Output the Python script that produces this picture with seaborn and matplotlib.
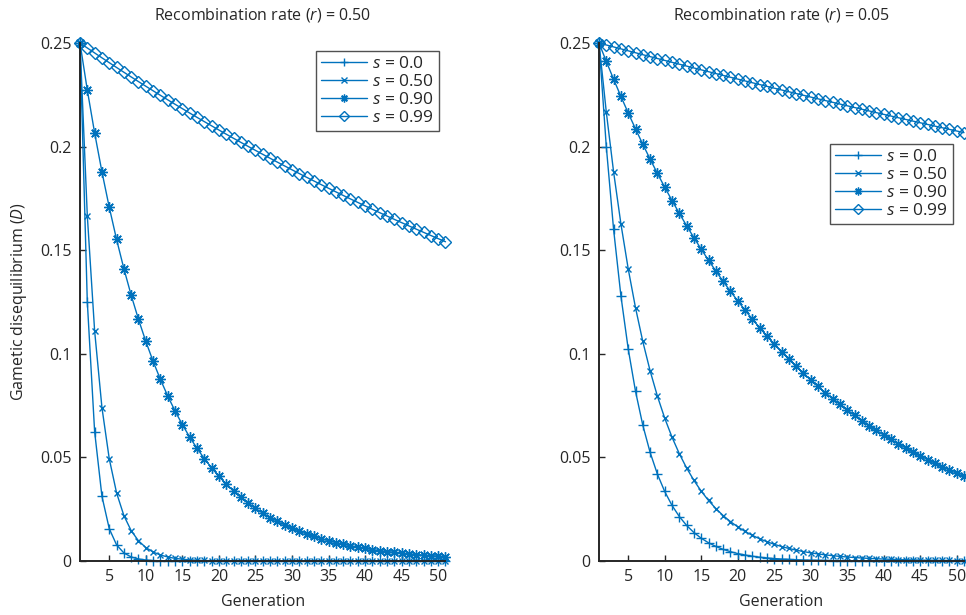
import matplotlib
matplotlib.use("Agg")
import matplotlib.pyplot as plt
import seaborn as sns

# Generations 1..51
generations = list(range(1, 52))

# Recombination rate r = 0.50
d_r050_s000 = [0.25, 0.125, 0.0625, 0.03125, 0.015625, 0.0078, 0.0039, 0.00195, 0.00098, 0.00049,
               0.00024, 0.00012, 0.00006, 0.00003, 0.00002, 0.00001, 0.0, 0.0, 0.0, 0.0,
               0.0, 0.0, 0.0, 0.0, 0.0, 0.0, 0.0, 0.0, 0.0, 0.0,
               0.0, 0.0, 0.0, 0.0, 0.0, 0.0, 0.0, 0.0, 0.0, 0.0,
               0.0, 0.0, 0.0, 0.0, 0.0, 0.0, 0.0, 0.0, 0.0, 0.0, 0.0]
d_r050_s050 = [0.25, 0.16667, 0.11111, 0.07407, 0.04938, 0.03292, 0.02195, 0.01463, 0.00975, 0.0065,
               0.00434, 0.00289, 0.00193, 0.00128, 0.00086, 0.00057, 0.00038, 0.00025, 0.00017, 0.00011,
               0.00008, 0.00005, 0.00003, 0.00002, 0.00001, 0.0, 0.0, 0.0, 0.0, 0.0,
               0.0, 0.0, 0.0, 0.0, 0.0, 0.0, 0.0, 0.0, 0.0, 0.0,
               0.0, 0.0, 0.0, 0.0, 0.0, 0.0, 0.0, 0.0, 0.0, 0.0, 0.0]
d_r050_s090 = [0.25, 0.22727, 0.20661, 0.18783, 0.17075, 0.15523, 0.14112, 0.12829, 0.11663, 0.10602,
               0.09639, 0.08762, 0.07966, 0.07242, 0.06583, 0.05985, 0.05441, 0.04946, 0.04497, 0.04088,
               0.03716, 0.03378, 0.03071, 0.02792, 0.02538, 0.02308, 0.02098, 0.01907, 0.01734, 0.01576,
               0.01433, 0.01303, 0.01184, 0.01077, 0.00979, 0.0089, 0.00809, 0.00735, 0.00668, 0.00608,
               0.00552, 0.00502, 0.00457, 0.00415, 0.00377, 0.00343, 0.00312, 0.00284, 0.00258, 0.00234,
               0.00213]
d_r050_s099 = [0.25, 0.24759, 0.24521, 0.24285, 0.24051, 0.23819, 0.23589, 0.23362, 0.23137, 0.22914,
               0.22694, 0.22475, 0.22258, 0.22044, 0.21832, 0.21621, 0.21413, 0.21207, 0.21003, 0.20800,
               0.20600, 0.20401, 0.20205, 0.20010, 0.19818, 0.19627, 0.19438, 0.19250, 0.19065, 0.18881,
               0.18699, 0.18519, 0.18341, 0.18164, 0.17989, 0.17816, 0.17644, 0.17474, 0.17306, 0.17139,
               0.16974, 0.16811, 0.16649, 0.16488, 0.16330, 0.16172, 0.16016, 0.15862, 0.15709, 0.15558,
               0.15408]

# Recombination rate r = 0.05
d_r005_s000 = [0.25, 0.2, 0.16, 0.128, 0.1024, 0.08192, 0.06554, 0.05243, 0.04194, 0.03355,
               0.02684, 0.02147, 0.01718, 0.01374, 0.011, 0.0088, 0.00704, 0.00563, 0.0045, 0.0036,
               0.00288, 0.00231, 0.00184, 0.00148, 0.00118, 0.00094, 0.00076, 0.0006, 0.00048, 0.00039,
               0.00031, 0.00025, 0.0002, 0.00016, 0.00013, 0.0001, 0.00008, 0.00007, 0.00005, 0.00004,
               0.00003, 0.00003, 0.00002, 0.00002, 0.00001, 0.00001, 0.00001, 0.00001, 0.00001, 0.0,
               0.0]
d_r005_s050 = [0.25, 0.21667, 0.18778, 0.16274, 0.14104, 0.12224, 0.10594, 0.09181, 0.07957, 0.06896,
               0.05977, 0.0518, 0.04489, 0.03891, 0.03372, 0.02922, 0.02533, 0.02195, 0.01902, 0.01649,
               0.01429, 0.01238, 0.01073, 0.0093, 0.00806, 0.00699, 0.00605, 0.00525, 0.00455, 0.00394,
               0.00342, 0.00296, 0.00257, 0.00222, 0.00193, 0.00167, 0.00145, 0.00125, 0.00109, 0.00094,
               0.00082, 0.00071, 0.00061, 0.00053, 0.00046, 0.0004, 0.00035, 0.0003, 0.00026, 0.00023,
               0.0002]
d_r005_s090 = [0.25, 0.2411, 0.23252, 0.22424, 0.21626, 0.20856, 0.20113, 0.19397, 0.18707, 0.18041,
               0.17398, 0.16779, 0.16182, 0.15605, 0.1505, 0.14514, 0.13997, 0.13499, 0.13018, 0.12555,
               0.12108, 0.11677, 0.11261, 0.1086, 0.10474, 0.10101, 0.09741, 0.09394, 0.0906, 0.08737,
               0.08426, 0.08126, 0.07837, 0.07558, 0.07289, 0.07029, 0.06779, 0.06538, 0.06305, 0.06081,
               0.05864, 0.05655, 0.05454, 0.0526, 0.05072, 0.04892, 0.04718, 0.0455, 0.04388, 0.04231,
               0.04081]
d_r005_s099 = [0.25, 0.24905, 0.24811, 0.24717, 0.24623, 0.2453, 0.24436, 0.24344, 0.24251, 0.2416,
               0.24068, 0.23977, 0.23886, 0.23795, 0.23705, 0.23615, 0.23525, 0.23436, 0.23347, 0.23259,
               0.2317, 0.23083, 0.22995, 0.22908, 0.22821, 0.22734, 0.22648, 0.22562, 0.22477, 0.22391,
               0.22306, 0.22222, 0.22138, 0.22054, 0.2197, 0.21887, 0.21804, 0.21721, 0.21638, 0.21556,
               0.21475, 0.21393, 0.21312, 0.21231, 0.21151, 0.2107, 0.2099, 0.20911, 0.20832, 0.20753,
               0.20674]

s_labels = ["0.0", "0.50", "0.90", "0.99"]
panel_titles = ["0.50", "0.05"]
x_ticks = [5, 10, 15, 20, 25, 30, 35, 40, 45, 50]
y_ticks = [0, 0.05, 0.1, 0.15, 0.2, 0.25]
y_ticklabels = ["0", "0.05", "0.1", "0.15", "0.2", "0.25"]

panels = [
    [d_r050_s000, d_r050_s050, d_r050_s090, d_r050_s099],
    [d_r005_s000, d_r005_s050, d_r005_s090, d_r005_s099],
]

sns.set_theme(style="white")
plt.rcParams["font.family"] = ["Open Sans", "DejaVu Sans"]
plt.rcParams["mathtext.fontset"] = "custom"
plt.rcParams["mathtext.rm"] = "Open Sans"
plt.rcParams["mathtext.it"] = "Open Sans:italic"

blue = "#0072BD"
ink = "#262626"
marker_styles = [
    dict(marker="+", markersize=7.5, markeredgewidth=1.0),
    dict(marker="x", markersize=5, markeredgewidth=1.0),
    dict(marker=(8, 2, 0), markersize=7.5, markeredgewidth=1.0),
    dict(marker="D", markersize=6.3, markeredgewidth=1.0, markerfacecolor="none"),
]

fig = plt.figure(figsize=(9.66, 6.15), dpi=100)
ax_left = fig.add_axes([80 / 966, 1 - 561 / 615, (445.5 - 80) / 966, (561 - 43) / 615])
ax_right = fig.add_axes([599 / 966, 1 - 561 / 615, (964 - 599) / 966, (561 - 43) / 615])

for ax, series_set, r_text in zip([ax_left, ax_right], panels, panel_titles):
    for vals, s_lab, mstyle in zip(series_set, s_labels, marker_styles):
        sns.lineplot(x=generations, y=vals, ax=ax, color=blue, linewidth=1.0,
                     label=f"$s$ = {s_lab}", clip_on=False, markeredgecolor=blue,
                     **mstyle)
    ax.set_xlim(1, 51)
    ax.set_ylim(0, 0.25)
    ax.set_xticks(x_ticks)
    ax.set_yticks(y_ticks)
    ax.set_yticklabels(y_ticklabels)
    ax.tick_params(direction="in", length=4, width=1.0, colors=ink,
                   labelsize=11.5, left=True, bottom=True, pad=6)
    for side in ["top", "right"]:
        ax.spines[side].set_visible(False)
    for side in ["left", "bottom"]:
        ax.spines[side].set_color(ink)
        ax.spines[side].set_linewidth(1.4)
    ax.set_xlabel("Generation", fontsize=11.5, color=ink, labelpad=6)
    ax.set_title(f"Recombination rate ($r$) = {r_text}", fontsize=11.5,
                 color=ink, pad=17)
    ax.set_facecolor("white")

ax_left.set_ylabel("Gametic disequilibrium ($D$)", fontsize=11.5, color=ink, labelpad=8)

leg_kw = dict(frameon=True, fancybox=False, edgecolor=ink, fontsize=12.5,
              handlelength=2.6, handletextpad=0.3, borderpad=0.3, labelspacing=0.1,
              markerscale=0.75, borderaxespad=0)
leg1 = ax_left.legend(loc="upper right", bbox_to_anchor=(439 / 966, 1 - 51 / 615),
                      bbox_transform=fig.transFigure, **leg_kw)
leg2 = ax_right.legend(loc="upper right", bbox_to_anchor=(953 / 966, 1 - 144 / 615),
                       bbox_transform=fig.transFigure, **leg_kw)
for leg in (leg1, leg2):
    leg.get_frame().set_linewidth(1.0)
    for t in leg.get_texts():
        t.set_color(ink)

fig.savefig("out.png", dpi=100, facecolor="white")
